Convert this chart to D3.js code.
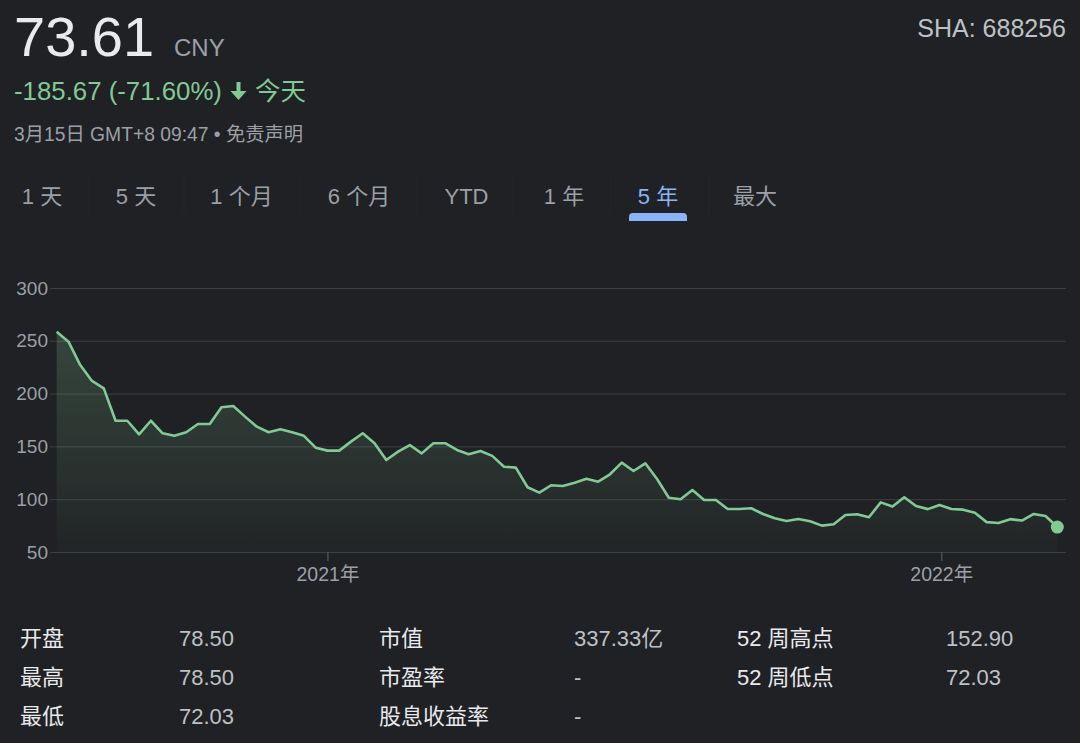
<!DOCTYPE html>
<html>
<head>
<meta charset="utf-8">
<script src="https://cdn.jsdelivr.net/npm/d3@7"></script>
<style>
  html, body { margin: 0; padding: 0; background: #202124; }
  svg { display: block; }
  text { font-family: "Liberation Sans", Arial, "Noto Sans CJK SC", sans-serif; }
</style>
</head>
<body>
<div id="chart"></div>
<script>
// Weekly closes, 688256 (5 year view)
const dates = [
  "2020-07-24","2020-07-31","2020-08-07","2020-08-14","2020-08-21","2020-08-28","2020-09-04","2020-09-11",
  "2020-09-18","2020-09-25","2020-10-02","2020-10-09","2020-10-16","2020-10-23","2020-10-30","2020-11-06",
  "2020-11-13","2020-11-20","2020-11-27","2020-12-04","2020-12-11","2020-12-18","2020-12-25",
  "2021-01-01","2021-01-08","2021-01-15","2021-01-22","2021-01-29","2021-02-05","2021-02-12","2021-02-19",
  "2021-02-26","2021-03-05","2021-03-12","2021-03-19","2021-03-26","2021-04-02","2021-04-09","2021-04-16",
  "2021-04-23","2021-04-30","2021-05-07","2021-05-14","2021-05-21","2021-05-28","2021-06-04","2021-06-11",
  "2021-06-18","2021-06-25","2021-07-02","2021-07-09","2021-07-16","2021-07-23","2021-07-30","2021-08-06",
  "2021-08-13","2021-08-20","2021-08-27","2021-09-03","2021-09-10","2021-09-17","2021-09-24","2021-10-01",
  "2021-10-08","2021-10-15","2021-10-22","2021-10-29","2021-11-05","2021-11-12","2021-11-19","2021-11-26",
  "2021-12-03","2021-12-10","2021-12-17","2021-12-24","2021-12-31",
  "2022-01-07","2022-01-14","2022-01-21","2022-01-28","2022-02-04","2022-02-11","2022-02-18","2022-02-25",
  "2022-03-04","2022-03-11"
];
const prices = [
  258.6, 249.2, 227.0, 212.0, 205.0, 174.3, 174.3, 161.4, 174.3, 162.4, 160.0, 163.4, 171.2, 171.2, 187.0, 188.3,
  178.2, 168.7, 163.4, 166.2, 163.4, 160.0, 148.8,
  146.0, 146.0, 154.5, 162.4, 153.0, 137.1, 145.0, 151.3, 143.4, 153.0, 153.0, 146.6, 142.5, 145.6, 141.0, 130.8,
  129.9, 111.3, 106.2, 113.2, 112.5, 115.6, 119.4, 116.6, 123.6, 134.6, 126.7, 134.0, 119.1, 101.4, 99.9, 108.7,
  99.2, 99.2, 90.7, 90.7, 91.4, 86.0, 81.9, 79.4, 81.3, 79.2, 75.0, 76.3, 85.0, 85.7, 82.9, 97.0, 93.0, 101.8,
  93.6, 90.6, 94.5,
  90.7, 90.1, 87.2, 78.3, 77.4, 81.1, 79.8, 86.0, 84.1, 73.61
];
const yTicks = [50, 100, 150, 200, 250, 300];
const xTicks = ["2021-01-01", "2022-01-01"];
const tabs = ["1 天", "5 天", "1 个月", "6 个月", "YTD", "1 年", "5 年", "最大"];
const activeTab = "5 年";
const statLabels = [["开盘", "最高", "最低"], ["市值", "市盈率", "股息收益率"], ["52 周高点", "52 周低点"]];
const statValues = [["78.50", "78.50", "72.03"], ["337.33亿", "-", "-"], ["152.90", "72.03"]];

const W = 1080, H = 743;
const parse = d3.timeParse("%Y-%m-%d");
const data = dates.map((d, i) => ({ date: parse(d), value: prices[i] }));

const svg = d3.select("#chart").append("svg").attr("width", W).attr("height", H);

// ---------- Header ----------
svg.append("text").attr("x", 14).attr("y", 56).attr("font-size", 56).attr("fill", "#e8eaed").text("73.61");
svg.append("text").attr("x", 174).attr("y", 56).attr("font-size", 24).attr("fill", "#9aa0a6").text("CNY");
svg.append("text").attr("x", 1066).attr("y", 37).attr("text-anchor", "end")
  .attr("font-size", 25).attr("fill", "#bdc1c6").text("SHA: 688256");

svg.append("text").attr("x", 14).attr("y", 100).attr("font-size", 25.8).attr("fill", "#81c995")
  .text("-185.67 (-71.60%)");
// down arrow
svg.append("path")
  .attr("d", "M236.5,82 h4 v9 h6 l-8,9 l-8,-9 h6 z")
  .attr("fill", "#81c995");
svg.append("text").attr("x", 255).attr("y", 100).attr("font-size", 25.5).attr("fill", "#81c995").text("今天");

svg.append("text").attr("x", 14).attr("y", 141).attr("font-size", 19.3).attr("fill", "#9aa0a6")
  .text("3月15日 GMT+8 09:47 • 免责声明");

// ---------- Range tabs ----------
const tabX = [42, 136, 241.5, 359, 466.5, 564, 658, 755];
const sepX = [89, 184, 300, 417, 513, 610, 709];
svg.append("g").selectAll("line").data(sepX).join("line")
  .attr("x1", d => d).attr("x2", d => d).attr("y1", 176).attr("y2", 214)
  .attr("stroke", "#26272b").attr("stroke-width", 1);
svg.append("g").selectAll("text").data(tabs).join("text")
  .attr("x", (d, i) => tabX[i]).attr("y", 204)
  .attr("text-anchor", "middle").attr("font-size", 22)
  .attr("fill", d => d === activeTab ? "#8ab4f8" : "#9aa0a6")
  .text(d => d);
const ax = tabX[tabs.indexOf(activeTab)];
svg.append("path")
  .attr("d", `M${ax - 29},221 v-4 a4,4 0 0 1 4,-4 h50 a4,4 0 0 1 4,4 v4 z`)
  .attr("fill", "#8ab4f8");

// ---------- Chart ----------
const x = d3.scaleTime().domain(d3.extent(data, d => d.date)).range([56.7, 1057.3]);
const y = d3.scaleLinear().domain([50, 300]).range([552, 288]);
const gridLeft = 50, gridRight = 1066;

const yAxis = svg.append("g").attr("transform", `translate(${gridRight},0)`)
  .call(d3.axisLeft(y).tickValues(yTicks).tickSize(gridRight - gridLeft).tickPadding(2));
yAxis.select(".domain").remove();
yAxis.selectAll("line").attr("stroke", "#3c4043");
yAxis.selectAll("text").attr("fill", "#9aa0a6").attr("font-size", 19)
  .attr("font-family", "\"Liberation Sans\", Arial, sans-serif");

const grad = svg.append("defs").append("linearGradient")
  .attr("id", "areaGrad").attr("gradientUnits", "userSpaceOnUse")
  .attr("x1", 0).attr("x2", 0).attr("y1", y(d3.max(prices))).attr("y2", y(50));
grad.append("stop").attr("offset", "0%").attr("stop-color", "#81c995").attr("stop-opacity", 0.22);
grad.append("stop").attr("offset", "100%").attr("stop-color", "#81c995").attr("stop-opacity", 0.02);

svg.append("path").datum(data)
  .attr("d", d3.area().x(d => x(d.date)).y0(y(50)).y1(d => y(d.value)))
  .attr("fill", "url(#areaGrad)");

svg.append("path").datum(data)
  .attr("d", d3.line().x(d => x(d.date)).y(d => y(d.value)))
  .attr("fill", "none").attr("stroke", "#81c995").attr("stroke-width", 2.6)
  .attr("stroke-linejoin", "round");

const last = data[data.length - 1];
svg.append("circle").attr("cx", x(last.date)).attr("cy", y(last.value)).attr("r", 6.5).attr("fill", "#81c995");

const xAxis = svg.append("g").attr("transform", `translate(0,${y(50)})`)
  .call(d3.axisBottom(x).tickValues(xTicks.map(parse)).tickSize(9).tickPadding(6)
    .tickFormat(d => d.getFullYear() + "年"));
xAxis.select(".domain").remove();
xAxis.selectAll("line").attr("stroke", "#5f6368");
xAxis.selectAll("text").attr("fill", "#9aa0a6").attr("font-size", 19.5)
  .attr("font-family", "\"Liberation Sans\", Arial, \"Noto Sans CJK SC\", sans-serif");

// ---------- Stats table ----------
const labelX = [20, 379, 737], valueX = [179, 574, 946], rowY = [646, 685, 724];
statLabels.forEach((col, c) => {
  col.forEach((lab, r) => {
    svg.append("text").attr("x", labelX[c]).attr("y", rowY[r]).attr("font-size", 22)
      .attr("fill", "#e8eaed").text(lab);
    svg.append("text").attr("x", valueX[c]).attr("y", rowY[r]).attr("font-size", 22)
      .attr("fill", "#bdc1c6").text(statValues[c][r]);
  });
});
</script>
</body>
</html>
